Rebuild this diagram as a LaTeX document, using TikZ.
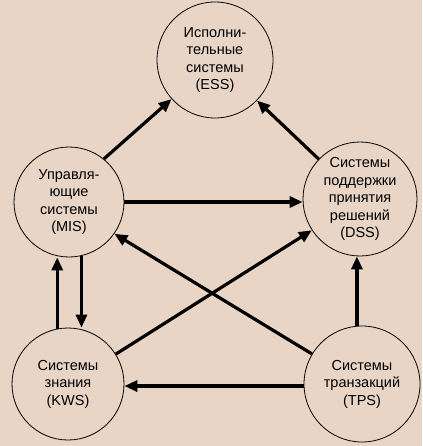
\documentclass[tikz,border=0pt]{standalone}
\usepackage{fontspec}
\setmainfont{Liberation Sans}
\usetikzlibrary{arrows.meta}
\definecolor{bg}{HTML}{E9D5C5}
\tikzset{
  sys/.style={circle, draw=black, line width=0.8pt, inner sep=0pt, align=center,
    font=\fontsize{14.5}{17.5}\selectfont},
  link/.style={line width=3.2pt, -{Triangle[length=13pt,width=11pt]}}
}
\begin{document}
\begin{tikzpicture}[x=1pt,y=-1pt]
\fill[bg] (0,0) rectangle (422,446);
\useasboundingbox (0,0) rectangle (422,446);
\node[sys, minimum size=116pt] (ESS) at (215,60) {Исполни-\\тельные\\системы\\(ESS)};
\node[sys, minimum size=110pt] (MIS) at (69,202) {Управля-\\ющие\\системы\\(MIS)};
\node[sys, minimum size=114pt] (DSS) at (360,199) {Системы\\поддержки\\принятия\\решений\\(DSS)};
\node[sys, minimum size=112pt] (KWS) at (68,384) {Системы\\знания\\(KWS)};
\node[sys, minimum size=116pt] (TPS) at (362,384) {Системы\\транзакций\\(TPS)};
% arrows
\draw[link] (MIS.51) -- (ESS.222);
\draw[link] (DSS.136) -- (ESS.316);
\draw[link] (MIS.east) -- (MIS.east -| DSS.west);
\draw[link] (TPS.149) -- (MIS.-35);
\draw[link] (KWS.32) -- (DSS.213);
\draw[link] (TPS.95) -- (TPS.95 |- DSS.south);
\draw[link] (TPS.182) -- (TPS.182 -| KWS.east);
\draw[link] (KWS.101) -- (KWS.101 |- MIS.south);
\draw[link] (MIS.-77) -- (MIS.-77 |- KWS.north);
\end{tikzpicture}
\end{document}
